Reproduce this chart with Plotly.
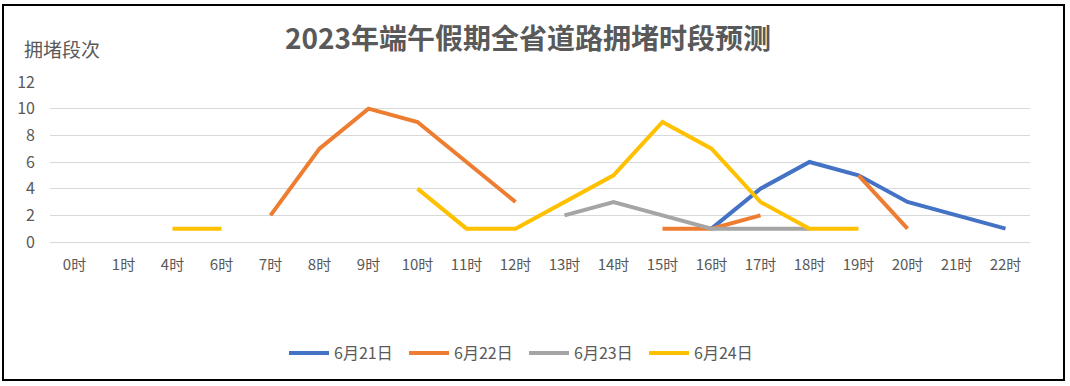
import plotly.graph_objects as go

categories = ["0时", "1时", "4时", "6时", "7时", "8时", "9时", "10时", "11时", "12时",
              "13时", "14时", "15时", "16时", "17时", "18时", "19时", "20时", "21时", "22时"]
N = None
s0621 = [N, N, N, N, N, N, N, N, N, N, N, N, N, 1, 4, 6, 5, 3, 2, 1]
s0622 = [N, N, N, N, 2, 7, 10, 9, 6, 3, N, N, 1, 1, 2, N, 5, 1, N, N]
s0623 = [N, N, N, N, N, N, N, N, N, N, 2, 3, 2, 1, 1, 1, N, N, N, N]
s0624 = [N, N, 1, 1, N, N, N, 4, 1, 1, 3, 5, 9, 7, 3, 1, 1, N, N, N]

series_names = ["6月21日", "6月22日", "6月23日", "6月24日"]
series_values = [s0621, s0622, s0623, s0624]
colors = ["#4472C4", "#ED7D31", "#A5A5A5", "#FFC000"]

title_text = "2023年端午假期全省道路拥堵时段预测"
y_title = "拥堵段次"
y_ticks = [0, 2, 4, 6, 8, 10, 12]

FONT = "Microsoft YaHei, Noto Sans CJK SC, sans-serif"
GREY = "#595959"

fig = go.Figure()
for name, vals, col in zip(series_names, series_values, colors):
    fig.add_trace(go.Scatter(
        x=categories, y=vals, name=name, mode="lines",
        line=dict(color=col, width=4, shape="linear"),
        connectgaps=False,
    ))

fig.update_layout(
    width=1070, height=386,
    margin=dict(l=50, r=40, t=82, b=144),
    paper_bgcolor="white", plot_bgcolor="white",
    font=dict(family=FONT, color=GREY, size=15),
    title=dict(text=title_text, x=528 / 1070, xref="container", xanchor="center",
               y=1 - 39 / 386, yref="container", yanchor="middle",
               font=dict(size=28, color=GREY, family=FONT, weight="bold")),
    showlegend=True,
    legend=dict(orientation="h", x=(524 - 50) / 980, xanchor="center", y=-0.694, yanchor="middle",
                font=dict(size=16, color=GREY), itemwidth=40, tracegroupgap=0,
                entrywidth=65, entrywidthmode="pixels",
                bgcolor="rgba(0,0,0,0)"),
    xaxis=dict(type="category", categoryorder="array", categoryarray=categories,
               range=[-0.5, len(categories) - 0.5], automargin=False,
               showgrid=False, showline=False, zeroline=False, ticks="",
               tickfont=dict(size=15, color=GREY), ticklabelstandoff=12,
               fixedrange=True),
    yaxis=dict(range=[0, 12], tickvals=y_ticks, showgrid=True, gridcolor="#D9D9D9",
               gridwidth=1.3, zeroline=True, zerolinecolor="#D9D9D9", zerolinewidth=1.3,
               showline=False, ticks="", tickfont=dict(size=16, color=GREY),
               ticklabelstandoff=14, automargin=False),
    annotations=[dict(text=y_title, xref="paper", yref="paper",
                      x=(22 - 50) / 980, y=(242 - 48) / 160, xanchor="left", yanchor="middle",
                      showarrow=False, font=dict(size=19, color=GREY, family=FONT))],
    shapes=[dict(type="rect", xref="paper", yref="paper",
                 x0=(3 - 50) / 980, x1=(1064 - 50) / 980,
                 y0=(242 - 380) / 160, y1=(242 - 5) / 160,
                 line=dict(color="black", width=2), fillcolor="rgba(0,0,0,0)", layer="below")],
)

fig.write_html("out.html", config={"displayModeBar": False},
               post_script="document.body.style.margin='0';document.body.style.overflow='hidden';")
